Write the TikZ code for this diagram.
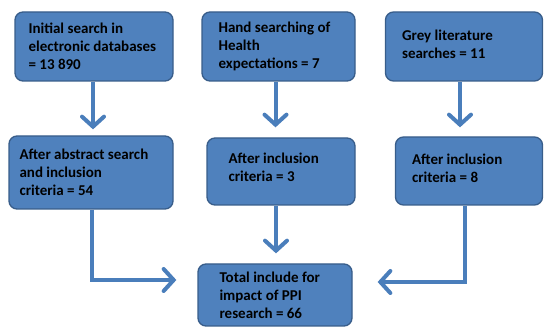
\documentclass[tikz,border=0pt]{standalone}
\usepackage{fontspec}
\setmainfont{Carlito}
\usetikzlibrary{arrows.meta,calc}
\definecolor{boxfill}{HTML}{4F81BD}
\definecolor{boxline}{HTML}{385D8A}
\definecolor{arrcol}{HTML}{4A7EBB}
\begin{document}
\begin{tikzpicture}[x=1pt,y=1pt,
  box/.style={draw=boxline,line width=1.3pt,fill=boxfill,rounded corners=8pt,inner sep=0pt},
  txt/.style={anchor=west,align=left,inner sep=0pt,font=\fontsize{15}{18}\selectfont\bfseries,text=black},
  arr/.style={draw=arrcol,line width=4pt,-{Straight Barb[length=10pt,width=22pt,line cap=round]}}]
\useasboundingbox (0,0) rectangle (544,-328);
% boxes
\node[box,minimum width=158pt,minimum height=69pt] (b1) at (94,-46.5) {};
\node[box,minimum width=153pt,minimum height=69pt] (b2) at (278.5,-46.5) {};
\node[box,minimum width=157pt,minimum height=69pt] (b3) at (464,-46.5) {};
\node[box,minimum width=164pt,minimum height=73pt] (b4) at (91,-172.5) {};
\node[box,minimum width=148pt,minimum height=67pt] (b5) at (281,-171.5) {};
\node[box,minimum width=147pt,minimum height=68pt] (b6) at (469,-171) {};
\node[box,minimum width=154pt,minimum height=62pt] (b7) at (275,-295) {};
% texts
\node[txt] (t1) at ([xshift=14pt]b1.west) {Initial search in\\electronic databases\\= 13 890};
\node[txt] (t2) at ([xshift=17pt]b2.west) {Hand searching of\\Health\\expectations = 7};
\node[txt] (t3) at ([xshift=17pt,yshift=2pt]b3.west) {Grey literature\\searches = 11};
\node[txt] (t4) at ([xshift=11pt]b4.west) {After abstract search\\and inclusion\\criteria = 54};
\node[txt] (t5) at ([xshift=22pt,yshift=4pt]b5.west) {After inclusion\\criteria = 3};
\node[txt] (t6) at ([xshift=17pt,yshift=3pt]b6.west) {After inclusion\\criteria = 8};
\node[txt] (t7) at ([xshift=22pt]b7.west) {Total include for\\impact of PPI\\research = 66};
% arrows
\draw[arr,shorten >=6pt] ([xshift=-1pt]b1.south) -- ([xshift=-1pt]b1.south |- b4.north);
\draw[arr,shorten >=10pt] ([xshift=-3pt]b2.south) -- ([xshift=-3pt]b2.south |- b5.north);
\draw[arr,shorten >=9pt] ([xshift=-4pt]b3.south) -- ([xshift=-4pt]b3.south |- b6.north);
\draw[arr,shorten >=10pt] ([xshift=-5pt]b5.south) -- ([xshift=-5pt]b5.south |- b7.north);
\draw[arr] ([xshift=1pt]b4.south) |- ([xshift=-21pt,yshift=15pt]b7.west);
\draw[arr] ([xshift=-4pt]b6.south) |- ([xshift=25pt,yshift=13pt]b7.east);
\end{tikzpicture}
\end{document}
